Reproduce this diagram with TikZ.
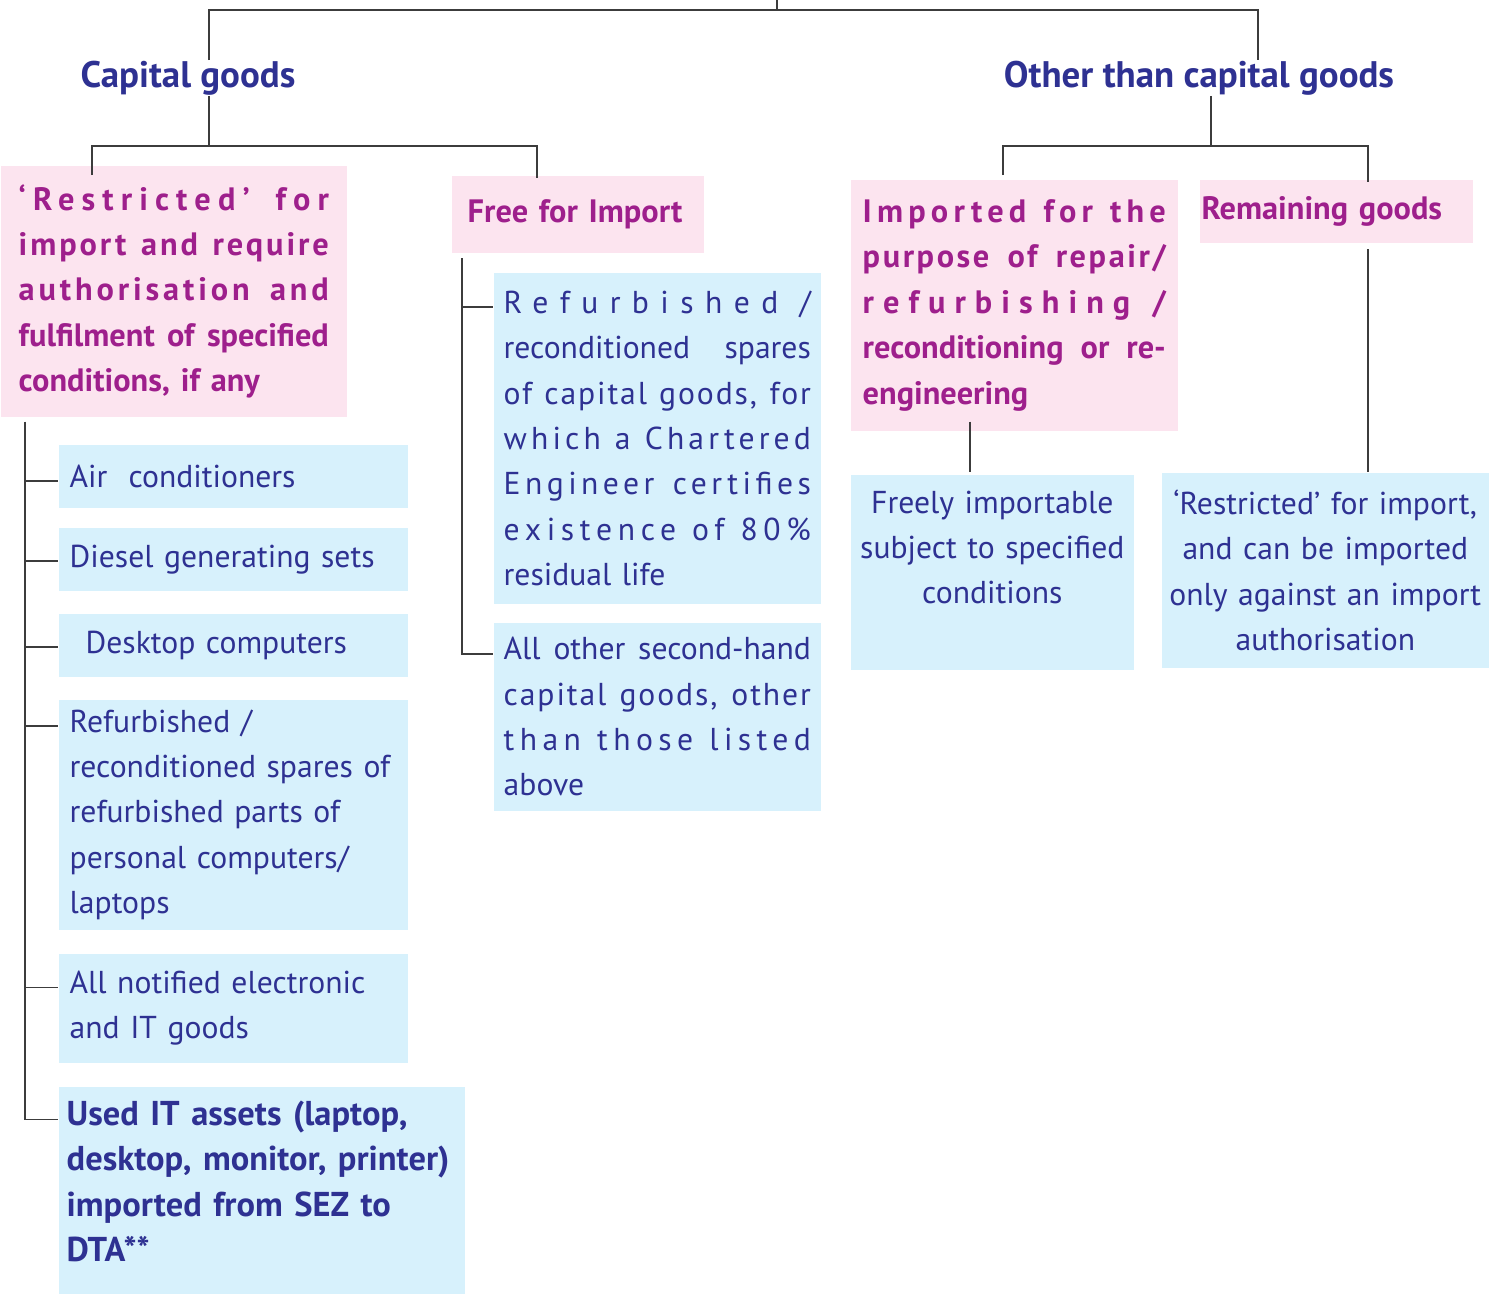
\documentclass[tikz,border=0pt]{standalone}
\usepackage{fontspec}
\setmainfont{PT Sans}

\definecolor{capblue}{HTML}{2E3192}
\definecolor{capmagenta}{HTML}{9E1F8C}
\definecolor{pinkfill}{HTML}{FCE4EF}
\definecolor{bluefill}{HTML}{D7F1FC}
\definecolor{linegray}{HTML}{3C3C3C}

% one justified line, optionally letter spaced
\newcommand{\jl}[2][0]{\makebox[\hsize][s]{\addfontfeature{LetterSpace=#1}\spaceskip=\fontdimen2\font plus 1fil\relax #2}\\}

\begin{document}
\begin{tikzpicture}[x=0.01cm,y=-0.01cm]
        \tikzstyle{every node}=[font=\fontsize{9}{12.9}\selectfont]
        \tikzstyle{head}=[font=\fontsize{10.5}{12}\selectfont\bfseries, text=capblue, inner sep=0pt]
        \tikzstyle{pinkbox}=[fill=pinkfill, text=capmagenta, font=\fontsize{9.2}{12.9}\selectfont\bfseries, anchor=north west, align=left, inner sep=0pt]
        \tikzstyle{bluebox}=[fill=bluefill, text=capblue, anchor=north west, align=left, inner sep=0pt]
        \tikzstyle{itembox}=[bluebox, minimum width=3.49cm, text width=3.27cm]
        \tikzstyle{conn}=[draw=linegray, line width=0.5pt]

        \useasboundingbox (0,0) rectangle (1500,1293);

        % headings
        \node[head] (capgoods) at (188,78) {Capital goods};
        \node[head] (othergoods) at (1199,78) {Other than capital goods};

        % capital goods
        \node[pinkbox, minimum width=3.46cm, minimum height=2.51cm, text width=3.1cm] (restr) at (0,165)
            {\jl[22]{‘Restricted’ for}\jl[9]{import and require}\jl[12]{authorisation and}\jl{fulfilment of specified}conditions, if any};
        \node[pinkbox, minimum width=2.52cm, minimum height=0.77cm, text width=2.2cm] (free) at (451,175) {Free for Import};

        \node[itembox, minimum height=0.63cm] (air) at (58,444) {Air~~conditioners};
        \node[itembox, minimum height=0.63cm] (diesel) at (58,527) {Diesel generating sets};
        \node[itembox, minimum height=0.63cm] (desk) at (58,613) {\hspace*{1.6mm}Desktop computers};
        \node[itembox, minimum height=2.30cm] (refurb) at (58,699)
            {Refurbished /\\reconditioned spares of\\refurbished parts of\\personal computers/\\laptops};
        \node[itembox, minimum height=1.09cm] (notified) at (58,953) {All notified electronic\\and IT goods};
        \node[bluebox, minimum width=4.06cm, text width=3.9cm, minimum height=2.07cm, text depth=43.8pt,
              font=\fontsize{9.8}{12.9}\selectfont\bfseries] (used) at (58,1086)
            {Used IT assets (laptop,\\desktop, monitor, printer)\\imported from SEZ to\\DTA**};

        \node[bluebox, minimum width=3.27cm, minimum height=3.31cm, text width=3.07cm] (refspares) at (493,272)
            {\jl[36]{Refurbished /}\jl{reconditioned spares}\jl[6]{of capital goods, for}\jl[13]{which a Chartered}\jl[14]{Engineer certifies}\jl[18]{existence of 80\%}residual life};
        \node[bluebox, minimum width=3.27cm, minimum height=1.88cm, text width=3.07cm] (allother) at (493,622)
            {\jl{All other second-hand}\jl[6]{capital goods, other}\jl[17]{than those listed}above};

        % other than capital goods
        \node[pinkbox, minimum width=3.27cm, minimum height=2.51cm, text width=3.03cm] (imported) at (850,179)
            {\jl[16]{Imported for the}\jl[8]{purpose of repair/}\jl[28]{refurbishing /}\jl{reconditioning or re-}engineering};
        \node[pinkbox, minimum width=2.73cm, minimum height=0.63cm, text width=2.69cm] (remaining) at (1199,179) {Remaining goods};
        \node[bluebox, align=center, minimum width=2.83cm, minimum height=1.95cm, text width=2.7cm, text depth=40pt] (freely) at (850,474)
            {Freely importable\\subject to specified\\conditions};
        \node[bluebox, align=center, minimum width=3.27cm, minimum height=1.95cm, text width=3.15cm] (restrimp) at (1161,472)
            {‘Restricted’ for import,\\and can be imported\\only against an import\\authorisation};

        % connectors
        \coordinate (top) at (777,0);
        \draw[conn] (top) -- (top |- 0,10) coordinate (topfork);
        \draw[conn] ([shift={(21,0)}]capgoods.north) |- (topfork) -| ([shift={(59,0)}]othergoods.north);

        \draw[conn] ([shift={(21,0)}]capgoods.south) -- ++(0,50) coordinate (capfork);
        \draw[conn] ([shift={(92,10)}]restr.north west) |- (capfork) -| ([shift={(86,3)}]free.north west);

        \draw[conn] ([shift={(12,0)}]othergoods.south) -- ++(0,50) coordinate (othfork);
        \draw[conn] ([shift={(153,-4)}]imported.north west) |- (othfork) -| ([shift={(169,3)}]remaining.north west);

        \foreach \n in {air,diesel,desk,refurb,notified,used,refspares,allother}
            \path ([shift={(0,-6)}]\n.base west) coordinate (\n-in);

        \coordinate (rtrunk) at ([shift={(25,4)}]restr.south west);
        \draw[conn] (rtrunk) |- (used-in);
        \foreach \n in {air,diesel,desk,refurb,notified}
            \draw[conn] (\n-in -| rtrunk) -- (\n-in);

        \coordinate (ftrunk) at ([shift={(11,5)}]free.south west);
        \draw[conn] (ftrunk) |- (allother-in);
        \draw[conn] (refspares-in -| ftrunk) -- (refspares-in);

        \draw[conn] ([shift={(120,-10)}]imported.south west) -- ([shift={(120,-2)}]freely.north west);
        \draw[conn] ([shift={(169,6)}]remaining.south west) -- ([shift={(207,0)}]restrimp.north west);
\end{tikzpicture}
\end{document}
